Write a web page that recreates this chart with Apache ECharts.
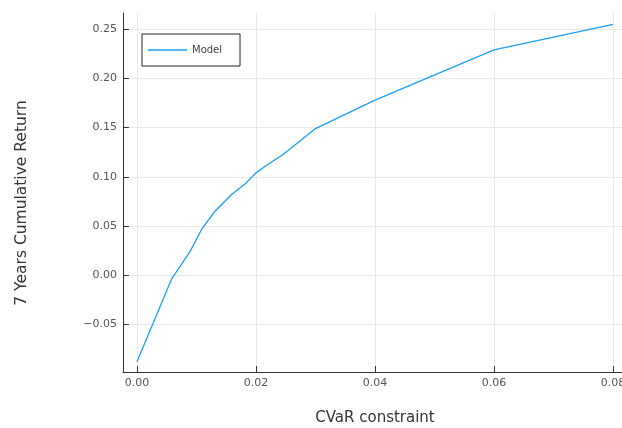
<!DOCTYPE html>
<html>
<head>
<meta charset="utf-8">
<script src="https://cdn.jsdelivr.net/npm/echarts@6/dist/echarts.min.js"></script>
<style>html,body{margin:0;padding:0;background:#fff}#c{width:622px;height:428px}</style>
</head>
<body>
<div id="c"></div>
<script>
const cvar = [0, 0.0058, 0.0089, 0.0109, 0.0131, 0.0159, 0.0182, 0.0200, 0.0216, 0.0246, 0.0277, 0.0300, 0.0400, 0.0600, 0.0800];
const modelReturn = [-0.088, -0.004, 0.024, 0.047, 0.065, 0.082, 0.093, 0.104, 0.111, 0.123, 0.138, 0.149, 0.178, 0.229, 0.255];
const xTicks = [0, 0.02, 0.04, 0.06, 0.08];
const yTicks = [-0.05, 0, 0.05, 0.10, 0.15, 0.20, 0.25];
const seriesName = 'Model';
const xTitle = 'CVaR constraint';
const yTitle = '7 Years Cumulative Return';

const fmt = v => { const s = Math.abs(v).toFixed(2); return v < -1e-9 ? '\u2212' + s : s; };
const chart = echarts.init(document.getElementById('c'), null, {renderer: 'canvas'});
const axisCommon = {
  axisLine: {show: true, onZero: false, lineStyle: {color: '#333', width: 1}},
  axisTick: {show: true, inside: true, length: 6, lineStyle: {color: '#333'}},
  splitLine: {show: true, lineStyle: {color: '#e8e8e8', width: 1}},
  axisLabel: {color: '#555', fontSize: 11, fontFamily: 'DejaVu Sans', formatter: fmt}
};
chart.setOption({
  animation: false,
  grid: {left: 123, top: 13, width: 504, height: 359, containLabel: false, outerBoundsMode: 'none'},
  xAxis: Object.assign({}, axisCommon, {
    type: 'value', min: -0.00235, max: 0.08235,
    axisTick: Object.assign({}, axisCommon.axisTick, {customValues: xTicks}),
    axisLabel: Object.assign({}, axisCommon.axisLabel, {customValues: xTicks, margin: 6}),
    name: xTitle, nameLocation: 'middle', nameGap: 39,
    nameTextStyle: {color: '#333', fontSize: 15, fontFamily: 'DejaVu Sans'}
  }),
  yAxis: Object.assign({}, axisCommon, {
    type: 'value', min: -0.0984, max: 0.2665,
    axisTick: Object.assign({}, axisCommon.axisTick, {customValues: yTicks}),
    axisLabel: Object.assign({}, axisCommon.axisLabel, {customValues: yTicks, margin: 6})
  }),
  legend: {
    show: true, left: 142, top: 34, orient: 'vertical',
    borderColor: '#222', borderWidth: 1, borderRadius: 0,
    padding: [10, 18, 10, 6], itemWidth: 39, itemHeight: 1.5, itemGap: 0,
    icon: 'path://M0,0H39V1.5H0Z',
    textStyle: {color: '#444', fontSize: 10, fontFamily: 'DejaVu Sans', lineHeight: 12},
    data: [seriesName]
  },
  graphic: [{
    type: 'text', x: 22, y: 203, rotation: Math.PI / 2,
    style: {text: yTitle, fill: '#333', fontSize: 15.5, fontFamily: 'DejaVu Sans', align: 'center', verticalAlign: 'middle'}
  }],
  series: [{
    name: seriesName, type: 'line', symbol: 'none', showSymbol: false,
    smooth: false,
    lineStyle: {color: '#1aa0f8', width: 1.3},
    itemStyle: {color: '#1aa0f8'},
    data: cvar.map((x, i) => [x, modelReturn[i]])
  }]
});
</script>
</body>
</html>
